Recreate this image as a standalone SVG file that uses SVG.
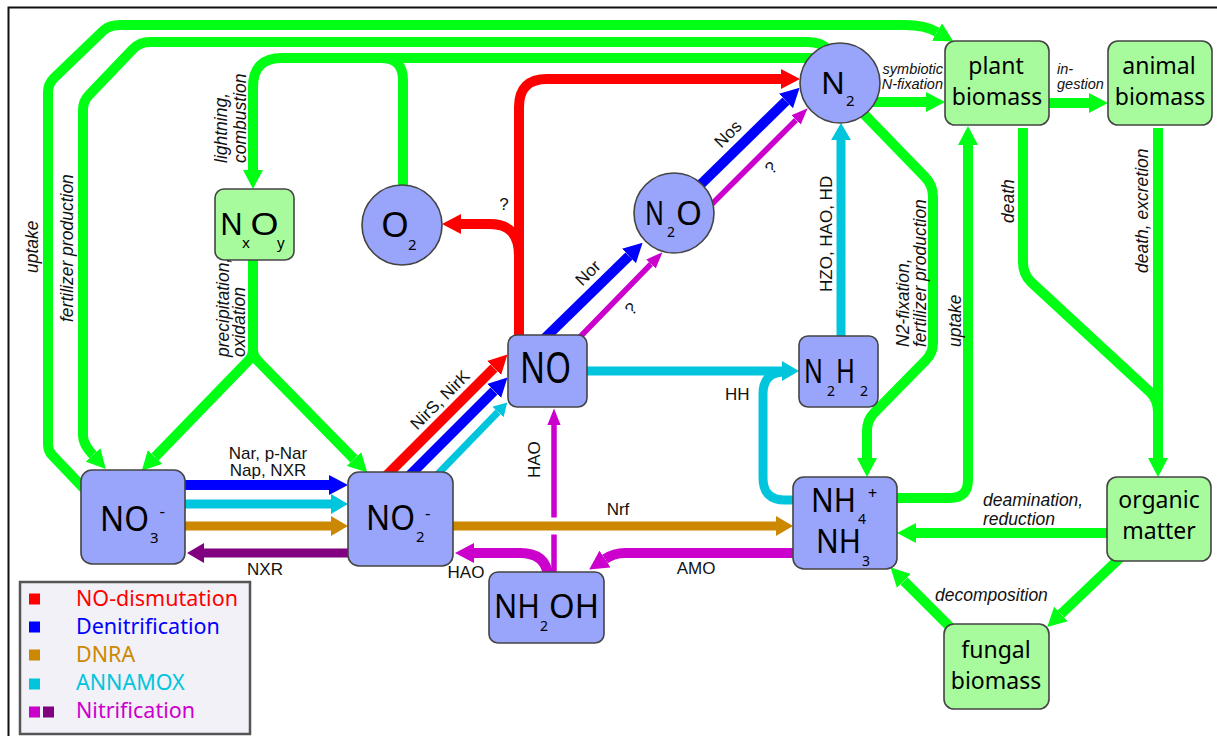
<svg xmlns="http://www.w3.org/2000/svg" width="1217" height="736" viewBox="0 0 1217 736">
  <defs>
    <style>
      .ln { fill: none; stroke-linecap: butt; stroke-linejoin: round; }
      .g { stroke: #00ff14; stroke-width: 10; }
      .r { stroke: #ff0000; stroke-width: 10; }
      .b { stroke: #0000ff; stroke-width: 10; }
      .c { stroke: #00c5dd; stroke-width: 9; }
      .o { stroke: #cc8800; stroke-width: 9; }
      .m { stroke: #cc00cc; stroke-width: 10; }
      .mt { stroke: #cc00cc; stroke-width: 5.5; }
      .p { stroke: #800080; stroke-width: 9; }
      .nb { fill: #99a4fb; stroke: #444; stroke-width: 1.6; }
      .ng { fill: #a8fb9c; stroke: #444; stroke-width: 1.6; }
      .chem { font-family: "Noto Sans", "Open Sans", sans-serif; fill: #000; }
      .bio { font-family: "Noto Sans", "Open Sans", sans-serif; font-size: 23px; fill: #000; text-anchor: middle; }
      .it { font-family: "Liberation Sans", Arial, sans-serif; font-style: italic; font-size: 17.5px; fill: #111; }
      .its { font-family: "Liberation Sans", Arial, sans-serif; font-style: italic; font-size: 14.5px; fill: #111; }
      .en { font-family: "Liberation Sans", Arial, sans-serif; font-size: 17px; fill: #111; }
      .leg { font-family: "Noto Sans", "Open Sans", sans-serif; font-size: 21.5px; }
    </style>
    <marker id="ah-g" viewBox="0 0 10 10" refX="0" refY="5" markerWidth="1.9" markerHeight="2" markerUnits="strokeWidth" orient="auto" preserveAspectRatio="none"><path d="M0,0 L10,5 L0,10 z" fill="#00ff14"/></marker>
    <marker id="ah-r" viewBox="0 0 10 10" refX="0" refY="5" markerWidth="1.9" markerHeight="2" markerUnits="strokeWidth" orient="auto" preserveAspectRatio="none"><path d="M0,0 L10,5 L0,10 z" fill="#ff0000"/></marker>
    <marker id="ah-b" viewBox="0 0 10 10" refX="0" refY="5" markerWidth="1.9" markerHeight="2" markerUnits="strokeWidth" orient="auto" preserveAspectRatio="none"><path d="M0,0 L10,5 L0,10 z" fill="#0000ff"/></marker>
    <marker id="ah-c" viewBox="0 0 10 10" refX="0" refY="5" markerWidth="1.9" markerHeight="2.2" markerUnits="strokeWidth" orient="auto" preserveAspectRatio="none"><path d="M0,0 L10,5 L0,10 z" fill="#00c5dd"/></marker>
    <marker id="ah-o" viewBox="0 0 10 10" refX="0" refY="5" markerWidth="1.9" markerHeight="2.2" markerUnits="strokeWidth" orient="auto" preserveAspectRatio="none"><path d="M0,0 L10,5 L0,10 z" fill="#cc8800"/></marker>
    <marker id="ah-m" viewBox="0 0 10 10" refX="0" refY="5" markerWidth="1.9" markerHeight="2" markerUnits="strokeWidth" orient="auto" preserveAspectRatio="none"><path d="M0,0 L10,5 L0,10 z" fill="#cc00cc"/></marker>
    <marker id="ah-mt" viewBox="0 0 10 10" refX="0" refY="5" markerWidth="3" markerHeight="2.4" markerUnits="strokeWidth" orient="auto" preserveAspectRatio="none"><path d="M0,0 L10,5 L0,10 z" fill="#cc00cc"/></marker>
    <marker id="ah-p" viewBox="0 0 10 10" refX="0" refY="5" markerWidth="1.9" markerHeight="2.2" markerUnits="strokeWidth" orient="auto" preserveAspectRatio="none"><path d="M0,0 L10,5 L0,10 z" fill="#800080"/></marker>
  </defs>

  <rect x="0" y="0" width="1217" height="736" fill="#fff"/>
  <rect x="8.5" y="7.5" width="1220" height="740" fill="none" stroke="#111" stroke-width="2"/>

  <!-- connectors -->
  <g id="connectors" class="ln">
    <!-- green: biological / abiotic transfers -->
    <path class="g" d="M92 497 L52 455 Q48 451 48 444 L48 92 Q48 84 54 78 L104 30 Q110 25 120 25 L905 25 Q925 25 937 32" marker-end="url(#ah-g)"/>
    <path class="g" d="M828 50 Q822 42 808 42 L150 42 Q140 42 133 49 L89 95 Q83 101 83 110 L83 436 Q83 444 93 455" marker-end="url(#ah-g)"/>
    <path class="g" d="M815 58 L282 58 Q253 58 253 87 L253 170" marker-end="url(#ah-g)"/>
    <path class="g" d="M403 190 L403 80 Q403 58 381 58"/>
    <path class="g" d="M253 258 L253 350 Q253 356 248 361 L155 457" marker-end="url(#ah-g)"/>
    <path class="g" d="M253 350 Q253 356 258 361 L354 459" marker-end="url(#ah-g)"/>
    <path class="g" d="M870 102 L926 102" marker-end="url(#ah-g)"/>
    <path class="g" d="M1049 103 L1089 103" marker-end="url(#ah-g)"/>
    <path class="g" d="M862 112 L925 177 Q933 185 933 197 L933 343 Q933 353 926 360 L874 413 Q867 420 867 431 L867 458" marker-end="url(#ah-g)"/>
    <path class="g" d="M890 498 L950 498 Q968 498 968 480 L968 145" marker-end="url(#ah-g)"/>
    <path class="g" d="M1023 128 L1023 262 Q1023 274 1031 282 L1150 392 Q1158 400 1158 412"/>
    <path class="g" d="M1158 128 L1158 458" marker-end="url(#ah-g)"/>
    <path class="g" d="M1110 533 L916 533" marker-end="url(#ah-g)"/>
    <path class="g" d="M1122 556 L1061 614" marker-end="url(#ah-g)"/>
    <path class="g" d="M957 634 L904 581" marker-end="url(#ah-g)"/>

    <!-- red: NO dismutation -->
    <path class="r" d="M382 480 L494 368" marker-end="url(#ah-r)"/>
    <path class="r" d="M519 340 L519 107 Q519 79 547 79 L781 79" marker-end="url(#ah-r)"/>
    <path class="r" d="M519 256 Q519 224 490 224 L461 224" marker-end="url(#ah-r)"/>

    <!-- blue: denitrification -->
    <path class="b" d="M180 485 L329 485" marker-end="url(#ah-b)"/>
    <path class="b" d="M405 480 L494 391" marker-end="url(#ah-b)"/>
    <path class="b" d="M545 338 L629 256" marker-end="url(#ah-b)"/>
    <path class="b" d="M695 190 L786 101" marker-end="url(#ah-b)"/>

    <!-- magenta / purple: nitrification -->
    <path class="mt" d="M576 341 L651 264" marker-end="url(#ah-mt)"/>
    <path class="mt" d="M706 210 L796 120" marker-end="url(#ah-mt)"/>
    <path class="mt" d="M554 575 L554 425" marker-end="url(#ah-mt)"/>
    <path class="m" d="M548 576 Q546 553 520 553 L474 553" marker-end="url(#ah-m)"/>
    <path class="m" d="M795 553 L625 553 C616 553 611 555 605 559" marker-end="url(#ah-m)"/>
    <path class="p" d="M350 553 L204 553" marker-end="url(#ah-p)"/>

    <!-- cyan: anammox -->
    <path class="c" d="M180 504 L331 504" marker-end="url(#ah-c)"/>
    <path class="c" d="M433 479 L498 412" style="stroke-width:7" marker-end="url(#ah-c)"/>
    <path class="c" d="M585 371 L782 371" marker-end="url(#ah-c)"/>
    <path class="c" d="M797 500 L785 500 Q763 500 763 478 L763 394 Q763 372 785 372"/>
    <path class="c" d="M841 338 L841 140" marker-end="url(#ah-c)"/>

    <!-- ochre: DNRA -->
    <path class="o" d="M180 526 L331 526" marker-end="url(#ah-o)"/>
    <path d="M462 526 L770 526" stroke="#fff" stroke-width="17"/>
    <path class="o" d="M450 526 L776 526" marker-end="url(#ah-o)"/>
  </g>

  <!-- nodes -->
  <g id="node-no3">
    <rect class="nb" x="81" y="470" width="104" height="94" rx="11"/>
    <text class="chem"><tspan x="100" y="531" font-size="35" textLength="49" lengthAdjust="spacingAndGlyphs">NO</tspan><tspan x="150" y="543" font-size="15">3</tspan><tspan x="159.5" y="517" font-size="17">-</tspan></text>
  </g>
  <g id="node-no2">
    <rect class="nb" x="348" y="472" width="105" height="94" rx="11"/>
    <text class="chem"><tspan x="366" y="530" font-size="34" textLength="49" lengthAdjust="spacingAndGlyphs">NO</tspan><tspan x="416" y="542" font-size="15">2</tspan><tspan x="425" y="519" font-size="17">-</tspan></text>
  </g>
  <g id="node-no">
    <rect class="nb" x="508" y="335" width="79" height="72" rx="9"/>
    <text class="chem" x="520" y="383" font-size="43" textLength="51" lengthAdjust="spacingAndGlyphs">NO</text>
  </g>
  <g id="node-n2h2">
    <rect class="nb" x="799" y="336" width="79" height="71" rx="9"/>
    <text class="chem"><tspan x="804" y="383" font-size="33" textLength="19" lengthAdjust="spacingAndGlyphs">N</tspan><tspan x="827" y="396" font-size="14">2</tspan><tspan x="836" y="383" font-size="33" textLength="19" lengthAdjust="spacingAndGlyphs">H</tspan><tspan x="860" y="396" font-size="14">2</tspan></text>
  </g>
  <g id="node-nh4">
    <rect class="nb" x="793" y="477" width="104" height="92" rx="11"/>
    <text class="chem"><tspan x="811" y="512" font-size="32" textLength="45" lengthAdjust="spacingAndGlyphs">NH</tspan><tspan x="858" y="524" font-size="14">4</tspan><tspan x="868" y="499" font-size="16">+</tspan></text>
    <text class="chem"><tspan x="816" y="553" font-size="32" textLength="45" lengthAdjust="spacingAndGlyphs">NH</tspan><tspan x="862" y="566" font-size="14">3</tspan></text>
  </g>
  <g id="node-nh2oh">
    <rect class="nb" x="489" y="572" width="115" height="71" rx="9"/>
    <text class="chem"><tspan x="494" y="618" font-size="32" textLength="46" lengthAdjust="spacingAndGlyphs">NH</tspan><tspan x="540" y="631" font-size="14">2</tspan><tspan x="549" y="618" font-size="32" textLength="50" lengthAdjust="spacingAndGlyphs">OH</tspan></text>
  </g>
  <g id="node-n2o">
    <circle class="nb" cx="674" cy="213" r="40"/>
    <text class="chem"><tspan x="645" y="225" font-size="32" textLength="19" lengthAdjust="spacingAndGlyphs">N</tspan><tspan x="667" y="237" font-size="14">2</tspan><tspan x="676" y="225" font-size="32" textLength="26" lengthAdjust="spacingAndGlyphs">O</tspan></text>
  </g>
  <g id="node-n2">
    <circle class="nb" cx="840" cy="83" r="40"/>
    <text class="chem"><tspan x="821" y="94" font-size="31" textLength="24" lengthAdjust="spacingAndGlyphs">N</tspan><tspan x="846" y="106" font-size="15">2</tspan></text>
  </g>
  <g id="node-o2">
    <circle class="nb" cx="402" cy="225" r="40"/>
    <text class="chem"><tspan x="381" y="237" font-size="34" textLength="28" lengthAdjust="spacingAndGlyphs">O</tspan><tspan x="408" y="250" font-size="15">2</tspan></text>
  </g>
  <g id="node-nxoy">
    <rect class="ng" x="215" y="189" width="79" height="71" rx="9"/>
    <text class="chem"><tspan x="220" y="235" font-size="30" textLength="23" lengthAdjust="spacingAndGlyphs">N</tspan><tspan x="242" y="248" font-size="15">x</tspan><tspan x="250" y="235" font-size="30" textLength="29" lengthAdjust="spacingAndGlyphs">O</tspan><tspan x="277" y="248" font-size="15">y</tspan></text>
  </g>
  <g id="node-plant">
    <rect class="ng" x="945" y="41" width="104" height="84" rx="10"/>
    <text class="bio" x="996" y="74">plant</text>
    <text class="bio" x="997" y="105">biomass</text>
  </g>
  <g id="node-animal">
    <rect class="ng" x="1108" y="41" width="104" height="84" rx="10"/>
    <text class="bio" x="1159" y="74">animal</text>
    <text class="bio" x="1160" y="105">biomass</text>
  </g>
  <g id="node-organic">
    <rect class="ng" x="1107" y="477" width="104" height="84" rx="10"/>
    <text class="bio" x="1159" y="508">organic</text>
    <text class="bio" x="1159" y="539">matter</text>
  </g>
  <g id="node-fungal">
    <rect class="ng" x="944" y="624" width="105" height="85" rx="10"/>
    <text class="bio" x="996" y="658">fungal</text>
    <text class="bio" x="996" y="689">biomass</text>
  </g>

  <!-- process labels -->
  <g id="labels">
    <text class="it" transform="translate(38,273) rotate(-90)">uptake</text>
    <text class="it" transform="translate(73,322) rotate(-90)">fertilizer production</text>
    <text class="it" transform="translate(227,163) rotate(-90)" font-size="17">lightning,</text>
    <text class="it" transform="translate(246,163) rotate(-90)" font-size="17">combustion</text>
    <text class="it" transform="translate(229,357) rotate(-90)" font-size="17">precipitation,</text>
    <text class="it" transform="translate(245,357) rotate(-90)" font-size="17">oxidation</text>
    <text class="it" transform="translate(909,347) rotate(-90)" font-size="17">N2-fixation,</text>
    <text class="it" transform="translate(926,347) rotate(-90)" font-size="17">fertilizer production</text>
    <text class="it" transform="translate(961,347) rotate(-90)">uptake</text>
    <text class="it" transform="translate(1014,223) rotate(-90)">death</text>
    <text class="it" transform="translate(1148,273) rotate(-90)" font-size="17">death, excretion</text>
    <text class="its" x="943" y="74" text-anchor="end">symbiotic</text>
    <text class="its" x="943" y="89" text-anchor="end">N-fixation</text>
    <text class="its" x="1057" y="74">in-</text>
    <text class="its" x="1057" y="89">gestion</text>
    <text class="it" x="983" y="506">deamination,</text>
    <text class="it" x="983" y="525">reduction</text>
    <text class="it" x="935" y="601">decomposition</text>

    <text class="en" x="268" y="459" text-anchor="middle">Nar, p-Nar</text>
    <text class="en" x="268" y="476" text-anchor="middle">Nap, NXR</text>
    <text class="en" x="265" y="575" text-anchor="middle">NXR</text>
    <text class="en" transform="translate(444,404) rotate(-45)" text-anchor="middle">NirS, NirK</text>
    <text class="en" transform="translate(592,277) rotate(-45)" text-anchor="middle">Nor</text>
    <text class="en" transform="translate(732,138) rotate(-45)" text-anchor="middle">Nos</text>
    <text class="en" transform="translate(635,313) rotate(-45)" text-anchor="middle" font-size="15">?</text>
    <text class="en" transform="translate(775,172) rotate(-45)" text-anchor="middle" font-size="15">?</text>
    <text class="en" x="504" y="210" text-anchor="middle" font-size="16">?</text>
    <text class="en" x="725" y="400">HH</text>
    <text class="en" transform="translate(832,292) rotate(-90)">HZO, HAO, HD</text>
    <text class="en" transform="translate(540,478) rotate(-90)">HAO</text>
    <text class="en" x="618" y="515" text-anchor="middle">Nrf</text>
    <text class="en" x="466" y="578" text-anchor="middle">HAO</text>
    <text class="en" x="696" y="574" text-anchor="middle">AMO</text>
  </g>

  <!-- legend -->
  <g id="legend">
    <rect x="20" y="582" width="230" height="152" fill="#f1f1f7" stroke="#555" stroke-width="2.5"/>
    <rect x="29" y="593.5" width="11" height="11" fill="#ff0000"/>
    <rect x="29" y="621.5" width="11" height="11" fill="#0000ff"/>
    <rect x="29" y="649.5" width="11" height="11" fill="#cc8800"/>
    <rect x="29" y="678.5" width="11" height="11" fill="#00c5dd"/>
    <rect x="29" y="706.5" width="11" height="11" fill="#cc00cc"/>
    <rect x="43" y="706.5" width="11" height="11" fill="#800080"/>
    <text class="leg" x="76" y="606" fill="#ff0000">NO-dismutation</text>
    <text class="leg" x="76" y="634" fill="#0000ff">Denitrification</text>
    <text class="leg" x="76" y="662" fill="#cc8800">DNRA</text>
    <text class="leg" x="76" y="690" fill="#00c5dd">ANNAMOX</text>
    <text class="leg" x="76" y="718" fill="#cc00cc">Nitrification</text>
  </g>
</svg>
